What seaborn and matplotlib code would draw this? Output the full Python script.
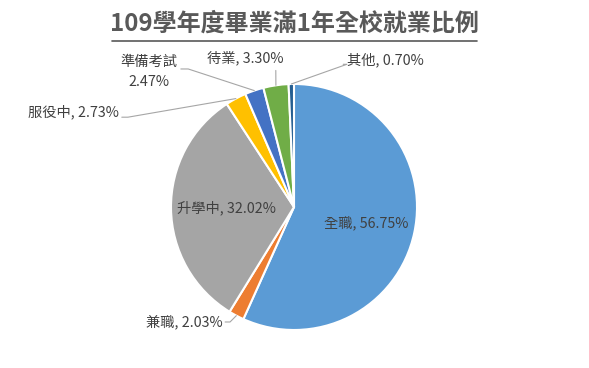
import numpy as np
import matplotlib.pyplot as plt
import seaborn as sns

sns.set_theme(style='white')
plt.rcParams['font.family'] = ['Noto Sans CJK TC', 'DejaVu Sans']

# data (clockwise from 12 o'clock)
categories = ['全職', '兼職', '升學中', '服役中', '準備考試', '待業', '其他']
shares = [56.75, 2.03, 32.02, 2.73, 2.47, 3.30, 0.70]
colors = ['#5B9BD5', '#ED7D31', '#A5A5A5', '#FFC000', '#4472C4', '#70AD47', '#255E91']
title = '109學年度畢業滿1年全校就業比例'

fig = plt.figure(figsize=(5.89, 3.68), dpi=100)
ax = fig.add_axes([0.2903, 0.1033, 0.4177, 0.6685])
wedges, _ = ax.pie(shares, colors=colors, startangle=90, counterclock=False,
                   wedgeprops=dict(edgecolor='white', linewidth=1.5))
ax.set_xlim(-1, 1)
ax.set_ylim(-1, 1)
ax.axis('off')

txt_color = '#404040'
line_color = '#a6a6a6'
fs = 10.3

labels = []
for name, v in zip(categories, shares):
    if name == '準備考試':
        labels.append(f'{name}\n{v:.2f}%')
    else:
        labels.append(f'{name}, {v:.2f}%')

# mid angles from data
cum = np.cumsum([0] + shares[:-1])
mids = [np.deg2rad(90 - 360 * (c + v / 2) / 100) for c, v in zip(cum, shares)]

# inside labels: radius
inside = {'全職': 0.6, '升學中': 0.55}
# outside: text pos, ha, leader path (elbow points after wedge edge)
outside = {
    '兼職': ((-0.58, -0.935), 'right', [(-0.56, -0.935), (-0.52, -0.935)]),
    '服役中': ((-1.42, 0.77), 'right', [(-1.40, 0.73), (-1.35, 0.73)]),
    '準備考試': ((-1.18, 1.095), 'center', [(-0.92, 1.122), (-0.86, 1.122)]),
    '待業': ((-0.40, 1.215), 'center', [(-0.148, 1.11)]),
    '其他': ((0.43, 1.195), 'left', [(0.40, 1.16), (0.43, 1.16)]),
}

for name, lab, a in zip(categories, labels, mids):
    if name in inside:
        r = inside[name]
        ax.text(r * np.cos(a), r * np.sin(a), lab, ha='center', va='center',
                fontsize=fs, color=txt_color)
    else:
        (tx, ty), ha, path = outside[name]
        ex, ey = np.cos(a), np.sin(a)
        pts = [(ex, ey)] + path[::-1]
        ax.plot([p[0] for p in pts], [p[1] for p in pts], color=line_color,
                lw=0.8, clip_on=False)
        ax.text(tx, ty, lab, ha=ha, va='center', fontsize=fs, color=txt_color,
                linespacing=1.55, multialignment='center')

fig.text(0.5, 0.937, title, ha='center', va='center', fontsize=17.3,
         fontweight='bold', color='#595959')
fig.add_artist(plt.Line2D([112 / 589, 477 / 589], [1 - 41 / 368, 1 - 41 / 368],
                          color='#595959', lw=1.2))

fig.savefig('out.png', dpi=100, facecolor='white')
